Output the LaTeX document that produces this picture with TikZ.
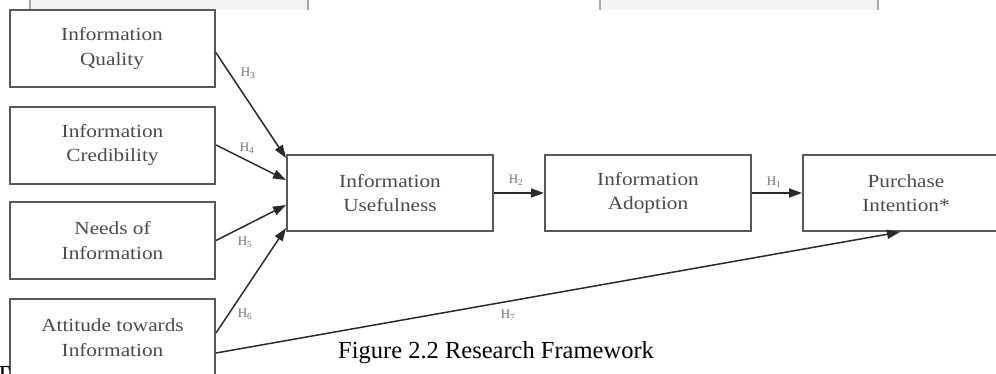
\documentclass[tikz,border=0pt]{standalone}
\usepackage{fontspec}
\setmainfont{Liberation Serif}
\newfontfamily\boxfont[FakeStretch=1.15]{Liberation Serif}
\usetikzlibrary{arrows.meta,calc}
\definecolor{boxline}{HTML}{585858}
\definecolor{boxtext}{HTML}{4A4A4A}
\definecolor{arrowcol}{HTML}{2A2A2A}
\definecolor{hlabel}{HTML}{707070}
\definecolor{stripfill}{HTML}{F3F3F3}
\definecolor{stripline}{HTML}{A8A8A8}
\begin{document}
\begin{tikzpicture}[x=1pt,y=-1pt,
  construct/.style={draw=boxline, line width=2pt, minimum width=205pt,
    minimum height=77pt, inner sep=0pt, align=center,
    font=\boxfont\fontsize{18.5}{24.5}\selectfont, text=boxtext},
  link/.style={draw=arrowcol, line width=1.5pt,
    -{Triangle[length=13pt,width=9pt]}},
  hyp/.style={font=\fontsize{13}{13}\selectfont, text=hlabel, inner sep=0pt}]
\clip (0,0) rectangle (996,373);
\fill[white] (0,0) rectangle (996,373);

% table cells of the page above
\fill[stripfill] (30,0) rectangle (308,10);
\fill[stripfill] (600,0) rectangle (878,10);
\draw[stripline, line width=1.2pt] (30,0) -- (30,10) (308,0) -- (308,10)
  (600,0) -- (600,10) (878,0) -- (878,10);

% antecedents
\node[construct] (qual) at (112,48.5) {Information\\Quality};
\node[construct] (cred) at (112.5,145) {Information\\Credibility};
\node[construct] (need) at (112.5,240.5) {Needs of\\Information};
\node[construct] (atti) at (112.5,337.5) {Attitude towards\\Information};

% main chain
\node[construct, minimum width=206pt, minimum height=76pt] (use) at (390,193) {Information\\Usefulness};
\node[construct, minimum width=206pt, minimum height=76pt] (adop) at (648,193) {Information\\Adoption};
\node[construct, minimum width=206pt, minimum height=76pt] (purc) at (906,193) {Purchase\\Intention*};

% hypotheses
\draw[link] ($(qual.east)+(0,3.5)$) -- ($(use.west)+(0,-35)$);
\draw[link] (cred.east) -- ($(use.west)+(0,-13)$);
\draw[link] (need.east) -- ($(use.west)+(0,12)$);
\draw[link] ($(atti.east)+(0,-4.5)$) -- ($(use.west)+(0,35)$);
\draw[link] (use.east) -- (adop.west);
\draw[link] (adop.east) -- (purc.west);
\draw[link] ($(atti.east)+(0,15.5)$) -- ($(purc.south)+(-6,0)$);

\node[hyp] (h3) at (248,73) {H\textsubscript{3}};
\node[hyp] (h4) at (247,148) {H\textsubscript{4}};
\node[hyp] (h5) at (245,242) {H\textsubscript{5}};
\node[hyp] (h6) at (245,314) {H\textsubscript{6}};
\node[hyp] (h2) at (516,180) {H\textsubscript{2}};
\node[hyp] (h1) at (774,182) {H\textsubscript{1}};
\node[hyp] (h7) at (508,315) {H\textsubscript{7}};

% caption
\node[font=\fontsize{24.5}{24.5}\selectfont, anchor=base west, inner sep=0pt]
  (cap) at (338,358) {Figure 2.2 Research Framework};

% body text starting below the figure
\node[font=\fontsize{24.5}{24.5}\selectfont, anchor=base west, inner sep=0pt]
  (body) at (-5,382) {T};
\end{tikzpicture}
\end{document}
